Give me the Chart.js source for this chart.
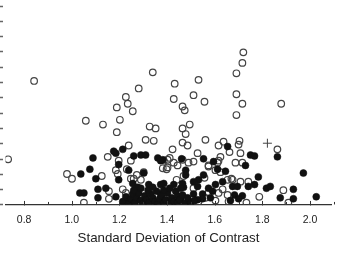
<!DOCTYPE html>
<html>
<head>
<meta charset="utf-8">
<script src="https://cdn.jsdelivr.net/npm/chart.js@4/dist/chart.umd.min.js"></script>
<style>
  html, body { margin: 0; padding: 0; background: #fff; }
  #sdChart { display: block; }
</style>
</head>
<body>
<canvas id="sdChart" width="337" height="264"></canvas>
<script>
/* Axis ticks */
var xTickValues = [0.8, 1.0, 1.2, 1.4, 1.6, 1.8, 2.0];
var xMinorTickValues = [0.9, 1.1, 1.3, 1.5, 1.7, 1.9, 2.1];
var yTickValues = [0, 1, 2, 3, 4, 5, 6, 7, 8, 9, 10, 11, 12, 13];
var xTitle = "Standard Deviation of Contrast";

/* Open circles [sd, value] */
var openPoints = [
	[0.842, 8.07], [1.340, 8.63], [1.281, 7.58], [1.227, 7.02], [1.235, 6.58], [1.189, 6.34],
	[1.256, 6.09], [1.202, 5.53], [1.059, 5.47], [1.131, 5.22], [1.327, 5.09], [1.352, 4.97],
	[1.189, 4.72], [1.720, 9.94], [1.716, 9.25], [1.691, 8.57], [1.432, 7.89], [1.532, 8.14],
	[1.428, 6.89], [1.511, 7.14], [1.557, 6.71], [1.465, 6.40], [1.474, 6.15], [1.691, 7.20],
	[1.716, 6.58], [1.879, 6.58], [1.691, 5.84], [1.495, 5.22], [1.465, 4.97], [1.478, 4.60],
	[0.733, 2.95],
	[1.310, 4.22], [1.344, 4.16], [1.239, 3.85], [1.151, 3.11], [1.197, 2.86], [1.248, 2.86],
	[0.980, 1.99], [1.001, 1.68], [1.126, 1.86], [1.193, 1.99], [1.231, 2.30], [1.273, 1.93],
	[1.302, 2.11], [1.382, 2.36], [1.402, 2.92], [1.214, 0.99], [1.156, 0.87], [1.051, 0.12],
	[1.156, 0.37], [1.423, 3.60], [1.465, 4.04], [1.486, 3.85], [1.561, 4.22], [1.637, 4.10],
	[1.704, 4.16], [1.863, 3.60], [1.662, 3.42], [1.708, 3.35], [1.716, 2.73], [1.624, 3.11],
	[1.616, 2.86], [1.411, 3.04], [1.398, 2.30], [1.511, 2.80], [1.574, 2.48], [1.603, 2.24],
	[1.624, 2.11], [1.469, 1.86], [1.440, 1.61], [1.557, 1.74], [1.670, 1.68], [1.708, 1.49],
	[1.741, 1.49], [1.511, 1.06], [1.574, 0.75], [1.616, 0.75], [1.654, 0.62], [1.787, 0.50],
	[1.888, 0.93], [1.909, 0.12], [1.733, 0.12], [1.658, 0.19], [1.532, 0.19], [1.402, 0.19],
	[1.603, 0.25], [1.185, 2.24], [1.248, 1.68], [1.260, 1.68], [1.290, 1.61], [1.227, 0.75],
	[1.269, 0.99], [1.386, 2.86], [1.402, 2.42], [1.428, 2.73], [1.444, 2.55], [1.528, 3.35],
	[1.616, 3.85], [1.700, 3.91], [1.490, 2.73], [1.465, 2.92], [1.574, 2.55], [1.612, 2.73],
	[1.687, 2.73], [1.654, 1.61], [1.675, 1.61], [1.633, 0.99], [1.561, 0.43]
];

/* Filled circles [sd, value] */
var filledPoints = [
	[1.185, 3.35], [1.214, 3.60], [1.089, 3.04], [1.076, 2.30], [1.038, 1.99], [1.101, 1.68],
	[1.197, 2.61], [1.197, 1.61], [1.143, 1.06], [1.110, 0.99], [1.034, 0.75], [1.051, 0.75],
	[1.110, 0.43], [1.185, 0.50], [1.260, 3.17], [1.290, 3.23], [1.310, 3.23], [1.361, 3.04],
	[1.256, 1.37], [1.277, 1.12], [1.323, 1.30], [1.373, 1.30], [1.386, 1.37], [1.235, 0.25],
	[1.382, 2.92], [1.461, 2.98], [1.478, 2.24], [1.553, 2.98], [1.595, 2.80], [1.654, 3.79],
	[1.750, 3.23], [1.767, 3.17], [1.729, 2.55], [1.783, 1.80], [1.863, 3.11], [1.972, 2.05],
	[1.645, 2.17], [1.553, 1.93], [1.428, 1.30], [1.469, 1.12], [1.511, 0.68], [1.528, 1.18],
	[1.549, 0.68], [1.603, 1.30], [1.633, 1.49], [1.675, 1.18], [1.683, 0.62], [1.716, 0.56],
	[1.741, 1.18], [1.767, 1.30], [1.817, 1.06], [1.833, 1.18], [1.875, 0.43], [1.930, 0.99],
	[1.930, 0.37], [2.026, 0.50], [1.444, 0.56], [1.457, 0.37], [1.582, 0.43], [1.373, 0.68],
	[1.373, 2.86], [1.176, 3.48], [1.239, 2.24], [1.302, 2.05], [1.612, 2.30], [1.532, 1.61],
	[1.511, 1.49], [1.465, 1.37], [1.457, 1.06], [1.574, 1.06], [1.591, 0.87], [1.695, 1.18],
	[1.549, 0.37], [1.528, 0.31], [1.490, 0.25], [1.666, 0.25], [1.700, 0.37], [1.478, 1.93],
	[1.214, 0.19], [1.227, 0.50], [1.239, 0.06], [1.248, 0.37], [1.256, 0.68], [1.265, 0.12],
	[1.273, 0.43], [1.281, 0.75], [1.290, 0.25], [1.298, 0.06], [1.306, 0.56], [1.315, 0.31],
	[1.323, 0.12], [1.331, 0.68], [1.340, 0.43], [1.348, 0.19], [1.356, 0.87], [1.361, 0.06],
	[1.369, 0.37], [1.377, 0.56], [1.386, 0.12], [1.394, 0.31], [1.402, 0.75], [1.411, 0.06],
	[1.419, 0.43], [1.428, 0.19], [1.436, 0.87], [1.444, 0.12], [1.453, 0.31], [1.465, 0.62],
	[1.474, 0.06], [1.486, 0.43], [1.499, 0.12], [1.515, 0.25], [1.320, 0.93], [1.290, 1.06],
	[1.340, 1.12], [1.411, 1.06], [1.386, 0.93], [1.260, 0.93]
];

/* Single cross marker [sd, value] */
var crossPoints = [[1.821, 4.00]];

/* Axis range */
const xMin = 0.722;
const xMax = 2.090;
const yMin = 0;
const yMax = 13;

function toXY(list) {
	return list.map(function (p) { return { x: p[0], y: p[1] }; });
}

/* draws the short inward tick marks the original plot uses */
const tickMarks = {
	id: 'tickMarks',
	afterDraw: function (chart) {
		var c = chart.ctx;
		var xs = chart.scales.x;
		var ys = chart.scales.y;
		var bottom = chart.chartArea.bottom;
		c.save();
		c.strokeStyle = "#333";
		c.lineWidth = 1;
		c.beginPath();
		for (var i = 0; i < xTickValues.length; i++) {
			var px = Math.round(xs.getPixelForValue(xTickValues[i])) + 0.5;
			c.moveTo(px, bottom + 1);
			c.lineTo(px, bottom - 3.5);
		}
		for (var i = 0; i < xMinorTickValues.length; i++) {
			var px = Math.round(xs.getPixelForValue(xMinorTickValues[i])) + 0.5;
			c.moveTo(px, bottom);
			c.lineTo(px, bottom - 2.5);
		}
		c.stroke();
		c.strokeStyle = "#666";
		c.lineWidth = 1.3;
		c.beginPath();
		for (var i = 0; i < yTickValues.length; i++) {
			var py = Math.round(ys.getPixelForValue(yTickValues[i])) + 0.5;
			c.moveTo(0, py);
			c.lineTo(3, py);
		}
		c.stroke();
		c.restore();
	}
};

window.addEventListener("DOMContentLoaded", function () {
	const ctx = document.getElementById("sdChart").getContext("2d");
	const data = {
		datasets: [
			{
				label: "filled",
				data: toXY(filledPoints),
				backgroundColor: "#111",
				borderColor: "#111",
				borderWidth: 0.5,
				pointRadius: 3.5
			},
			{
				label: "open",
				data: toXY(openPoints),
				backgroundColor: "rgba(0,0,0,0)",
				borderColor: "#444",
				borderWidth: 1.2,
				pointRadius: 3.3
			},
			{
				label: "cross",
				data: toXY(crossPoints),
				pointStyle: "cross",
				borderColor: "#444",
				borderWidth: 1,
				pointRadius: 4.5
			}
		]
	};
	const options = {
		responsive: false,
		animation: false,
		events: [],
		layout: {
			padding: { left: 0, right: 4, top: 0, bottom: 18 }
		},
		plugins: {
			legend: { display: false },
			tooltip: { enabled: false }
		},
		scales: {
			x: {
				type: 'linear',
				min: xMin,
				max: xMax,
				afterBuildTicks: function (scale) {
					scale.ticks = xTickValues.map(function (v) { return { value: v }; });
				},
				grid: { display: true, drawOnChartArea: false, drawTicks: false },
				border: { display: true, color: "#333", width: 1.3 },
				ticks: {
					autoSkip: false,
					maxRotation: 0,
					padding: 9,
					color: "#222",
					font: { family: "'Liberation Sans', Arial, sans-serif", size: 10.5 },
					callback: function (value) { return Number(value).toFixed(1); }
				},
				title: {
					display: true,
					text: xTitle,
					color: "#222",
					padding: { top: -5, bottom: 0 },
					font: { family: "'Liberation Sans', Arial, sans-serif", size: 13.3 }
				}
			},
			y: {
				type: 'linear',
				display: false,
				min: yMin,
				max: yMax
			}
		}
	};
	var myChart = new Chart(ctx, {
		type: 'scatter',
		data,
		options,
		plugins: [tickMarks]
	});
}, false);
</script>
</body>
</html>
